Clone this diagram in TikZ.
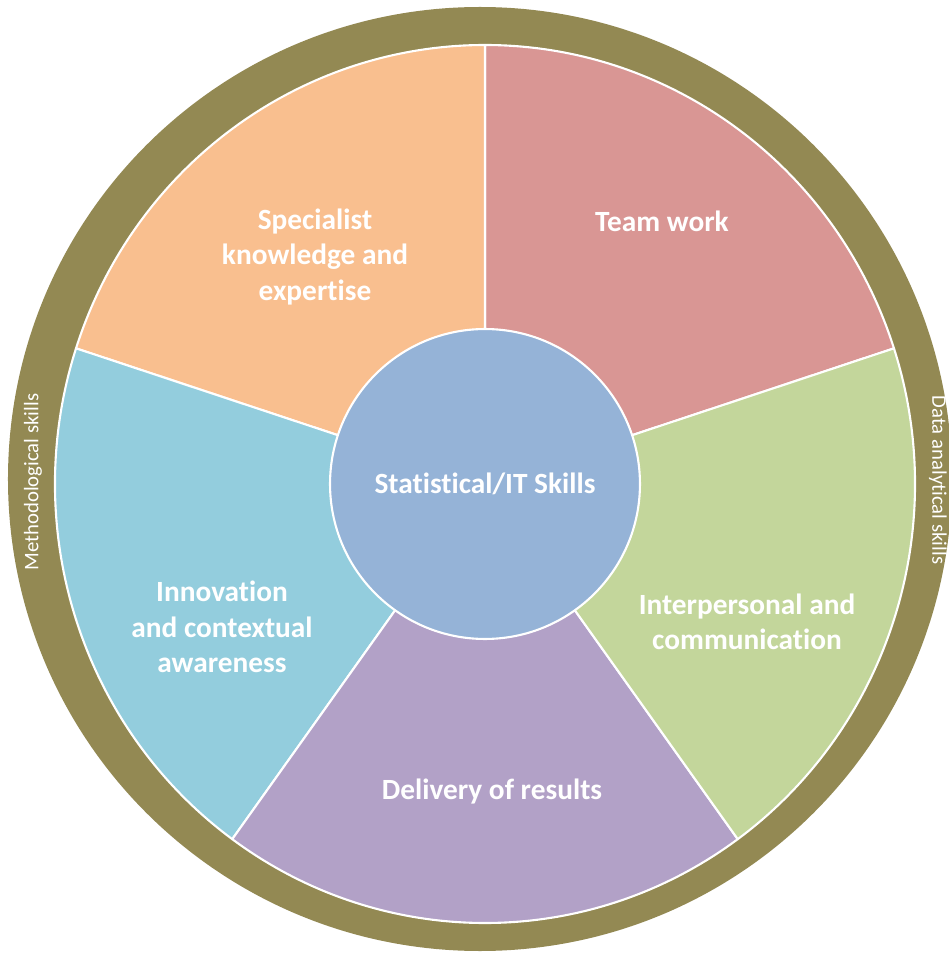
\documentclass[tikz,border=0pt]{standalone}
\usepackage{fontspec}
\setmainfont[Ligatures=NoCommon]{Carlito}
\usepackage{xcolor}
\usepackage{tikz}

\definecolor{ringolive}{HTML}{938953}
\definecolor{teamred}{HTML}{D99694}
\definecolor{expertorange}{HTML}{F9BF8F}
\definecolor{innoblue}{HTML}{93CDDD}
\definecolor{deliverypurple}{HTML}{B2A1C7}
\definecolor{commgreen}{HTML}{C3D69B}
\definecolor{hubblue}{HTML}{95B3D7}

\begin{document}
\begin{tikzpicture}[
    x=0.02cm, y=0.02cm,
    sector/.style={draw=white, line width=1.2pt, line join=round},
    skill/.style={text=white, align=center, inner sep=0pt,
        font=\bfseries\fontsize{16.7}{20.2}\selectfont},
    hub/.style={circle, fill=hubblue, draw=white, line width=1.2pt,
        minimum size=6.2cm, inner sep=0pt, text=white,
        font=\bfseries\fontsize{16.7}{20.2}\selectfont},
    ringtext/.style={text=white, inner sep=0pt, font=\fontsize{11.8}{13}\selectfont}
]
\useasboundingbox (-485,-473) rectangle (464,484);

% olive ring behind the wheel
\fill[ringolive] (-5,5) circle[radius=472];

% five skill sectors
\filldraw[sector, fill=teamred] (0,0) -- (18:430 and 439)
    arc[start angle=18, end angle=90, x radius=430, y radius=439] -- cycle;
\filldraw[sector, fill=expertorange] (0,0) -- (90:430 and 439)
    arc[start angle=90, end angle=162, x radius=430, y radius=439] -- cycle;
\filldraw[sector, fill=innoblue] (0,0) -- (162:430 and 439)
    arc[start angle=162, end angle=234, x radius=430, y radius=439] -- cycle;
\filldraw[sector, fill=deliverypurple] (0,0) -- (234:430 and 439)
    arc[start angle=234, end angle=306, x radius=430, y radius=439] -- cycle;
\filldraw[sector, fill=commgreen] (0,0) -- (306:430 and 439)
    arc[start angle=306, end angle=378, x radius=430, y radius=439] -- cycle;

\node[hub] (stats) at (0,0) {Statistical/IT Skills};

\node[skill] (teamwork) at (177,263) {Team work};
\node[skill] (specialist) at (-170,227) {Specialist\\knowledge and\\expertise};
\node[skill] (innovation) at (-263,-143) {Innovation\\and contextual\\awareness};
\node[skill] (delivery) at (7,-308) {Delivery of results};
\node[skill] (interpersonal) at (262,-138) {Interpersonal and\\communication};

% ring captions
\node[ringtext, rotate=90] (methodological) at (-452,2) {Methodological skills};
\node[ringtext, rotate=-90] (analytical) at (453,4) {Data analytical skills};
\end{tikzpicture}
\end{document}
